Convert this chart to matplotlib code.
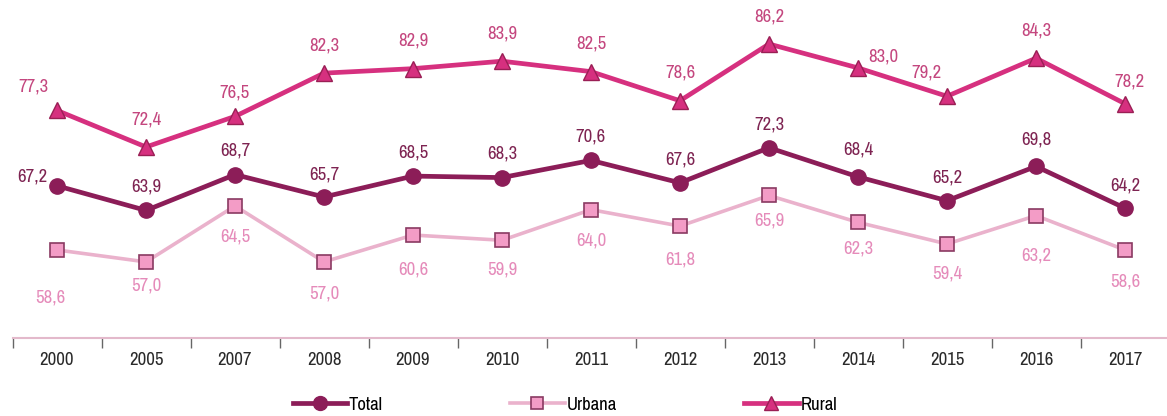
import matplotlib
matplotlib.use("Agg")
import matplotlib.pyplot as plt
from matplotlib.lines import Line2D
from matplotlib import font_manager

years = ["2000", "2005", "2007", "2008", "2009", "2010", "2011",
         "2012", "2013", "2014", "2015", "2016", "2017"]
total = [67.2, 63.9, 68.7, 65.7, 68.5, 68.3, 70.6, 67.6, 72.3, 68.4, 65.2, 69.8, 64.2]
urbana = [58.6, 57.0, 64.5, 57.0, 60.6, 59.9, 64.0, 61.8, 65.9, 62.3, 59.4, 63.2, 58.6]
rural = [77.3, 72.4, 76.5, 82.3, 82.9, 83.9, 82.5, 78.6, 86.2, 83.0, 79.2, 84.3, 78.2]

names = {f.name for f in font_manager.fontManager.ttflist}
family = next((f for f in ("Archivo Narrow", "PT Sans Narrow", "Roboto Condensed", "Liberation Sans")
               if f in names), "DejaVu Sans")
plt.rcParams["font.family"] = [family, "DejaVu Sans"]

c_total = "#8c1d58"
c_rural = "#d6307f"
c_urb_line = "#eab2cc"
c_urb_fill = "#f39cc6"
c_urb_edge = "#8a3a62"
t_total = "#7e2452"
t_rural = "#c4477f"
t_urb = "#e58bba"

fig = plt.figure(figsize=(11.67, 4.16), dpi=100)
ax = fig.add_axes([12.5 / 1167, 1 - 338 / 416, 1157 / 1167, 338 / 416])

x = [i + 0.5 for i in range(len(years))]

ax.plot(x, urbana, color=c_urb_line, lw=2.6, marker="s", ms=10,
        mfc=c_urb_fill, mec=c_urb_edge, mew=1.2, zorder=2)
ax.plot(x, total, color=c_total, lw=3.4, marker="o", ms=11,
        mfc=c_total, mec=c_total, zorder=3)
ax.plot(x, rural, color=c_rural, lw=3.4, marker="^", ms=11,
        mfc=c_rural, mec="#9a1f55", mew=1.0, zorder=3)

def fmt(v):
    return f"{v:.1f}".replace(".", ",")

# label offsets in points (dx, dy)
rural_off = [(-17, 17), (0, 20), (0, 17), (0, 20), (0, 20), (0, 20), (0, 20),
             (0, 20), (0, 20), (18, 8), (-15, 17), (0, 20), (3, 16)]
total_off = [(-18, 7), (0, 17), (0, 17), (0, 16), (0, 17), (0, 17), (0, 17),
             (0, 17), (0, 17), (0, 20), (0, 17), (0, 19), (0, 16)]
urb_off = [(-5, -34), (0, -17), (0, -22), (0, -23), (0, -25), (0, -21), (0, -22),
           (0, -24), (0, -18), (0, -19), (0, -21), (0, -29), (0, -23)]

label_kw = dict(textcoords="offset points", ha="center", va="center",
                fontsize=13.5, fontweight="semibold")
for xi, v, (dx, dy) in zip(x, rural, rural_off):
    ax.annotate(fmt(v), (xi, v), xytext=(dx, dy), color=t_rural, **label_kw)
for xi, v, (dx, dy) in zip(x, total, total_off):
    ax.annotate(fmt(v), (xi, v), xytext=(dx, dy), color=t_total, **label_kw)
for xi, v, (dx, dy) in zip(x, urbana, urb_off):
    ax.annotate(fmt(v), (xi, v), xytext=(dx, dy), color=t_urb, **label_kw)

ax.set_xlim(0, len(years))
ax.set_ylim(46.8, 92.1)

for s in ["left", "right", "top"]:
    ax.spines[s].set_visible(False)
ax.spines["bottom"].set_color("#e3b9cb")
ax.spines["bottom"].set_linewidth(1.5)
ax.set_yticks([])

ax.set_xticks(range(len(years)))
ax.set_xticklabels([])
ax.set_xticks(x, minor=True)
ax.set_xticklabels(years, minor=True, fontsize=13.5, color="#2a2a2a")
ax.tick_params(axis="x", which="major", length=7, width=1.0, color="#666666", direction="out")
ax.tick_params(axis="x", which="minor", length=0, pad=10)

handles = [
    Line2D([], [], color=c_total, lw=3.4, marker="o", ms=10, mfc=c_total, mec=c_total),
    Line2D([], [], color=c_urb_line, lw=2.6, marker="s", ms=8.5, mfc=c_urb_fill,
           mec=c_urb_edge, mew=1.2),
    Line2D([], [], color=c_rural, lw=3.4, marker="^", ms=10, mfc=c_rural, mec="#9a1f55"),
]
fig.legend(handles, ["Total", "Urbana", "Rural"], loc="center",
           bbox_to_anchor=(0.484, 0.027), ncol=3, frameon=False,
           handlelength=2.9, handletextpad=0.1, columnspacing=6.8,
           prop={"family": [family, "DejaVu Sans"], "size": 13.5, "weight": "bold"})

fig.savefig("out.png", dpi=100, facecolor="white")
